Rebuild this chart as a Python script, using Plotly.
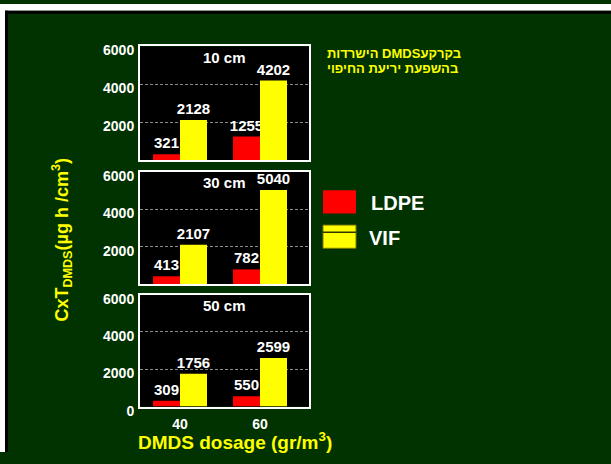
import plotly.graph_objects as go

# ---- data ----
depths = ["10 cm", "30 cm", "50 cm"]
dosage = [40, 60]
ldpe = [[321, 1255], [413, 782], [309, 550]]
vif = [[2128, 4202], [2107, 5040], [1756, 2599]]
series_names = ["LDPE", "VIF"]
y_ticks_upper = [2000, 4000, 6000]
y_ticks_lower = [0, 2000, 4000, 6000]
title_line1 = "הישרדות DMDSבקרקע"
title_line2 = "בהשפעת יריעת החיפוי"

W, H = 611, 464
FONT = "Liberation Sans, Arial, sans-serif"
GREEN = "#003300"
RED = "#FF0000"
YEL = "#FFFF00"


def px(x):
    return x / W


def py(y):
    return 1 - y / H


panels_y = [(44, 162), (174, 290), (301, 417)]
panel_x = (140, 309)

fig = go.Figure()
layout = dict(
    width=W, height=H,
    margin=dict(l=0, r=0, t=0, b=0, pad=0),
    paper_bgcolor=GREEN,
    plot_bgcolor="black",
    showlegend=False,
    barmode="overlay",
    font=dict(family=FONT, color="white"),
)

annotations = []
for i, depth in enumerate(depths):
    xa = "x" if i == 0 else f"x{i+1}"
    ya = "y" if i == 0 else f"y{i+1}"
    fig.add_trace(go.Bar(
        x=dosage, y=ldpe[i], name=series_names[0], xaxis=xa, yaxis=ya,
        marker=dict(color=RED, line=dict(width=0)),
        width=6.75, offset=-6.75,
        text=[str(v) for v in ldpe[i]], textposition="outside",
        constraintext="none", cliponaxis=False,
        textfont=dict(family=FONT, size=15, color="white", weight="bold"),
        hoverinfo="skip",
    ))
    fig.add_trace(go.Bar(
        x=dosage, y=vif[i], name=series_names[1], xaxis=xa, yaxis=ya,
        marker=dict(color=YEL, line=dict(width=0)),
        width=6.75, offset=0,
        text=[str(v) for v in vif[i]], textposition="outside",
        constraintext="none", cliponaxis=False,
        textfont=dict(family=FONT, size=15, color="white", weight="bold"),
        hoverinfo="skip",
    ))
    y0, y1 = panels_y[i]
    last = i == len(depths) - 1
    xkey = "xaxis" if i == 0 else f"xaxis{i+1}"
    ykey = "yaxis" if i == 0 else f"yaxis{i+1}"
    layout[xkey] = dict(
        domain=[px(panel_x[0]), px(panel_x[1])],
        anchor=ya, range=[30, 72.25],
        showgrid=False, zeroline=False,
        showline=True, linecolor="white", linewidth=2, mirror=True,
        tickvals=dosage, ticktext=[str(d) for d in dosage],
        showticklabels=last, ticks="",
        ticklabelstandoff=4,
        tickfont=dict(family=FONT, size=14, color="white", weight="bold"),
        fixedrange=True,
    )
    layout[ykey] = dict(
        domain=[py(y1), py(y0)],
        anchor=xa, range=[0, 6000],
        tickvals=y_ticks_lower if last else y_ticks_upper,
        showgrid=True, gridcolor="#8a8a8a", gridwidth=1, griddash="3px,2px",
        zeroline=False,
        showline=True, linecolor="white", linewidth=2, mirror=True,
        ticks="", ticklabelshift=4, ticklabelstandoff=1,
        tickfont=dict(family=FONT, size=14, color="white", weight="bold"),
        fixedrange=True,
    )
    annotations.append(dict(
        x=px((panel_x[0] + panel_x[1]) / 2), y=py(y0 + 11),
        xref="paper", yref="paper", text=f"<b>{depth}</b>",
        showarrow=False, xanchor="center", yanchor="middle",
        font=dict(family=FONT, size=15, color="white"),
    ))

# axis titles
annotations.append(dict(
    x=px(62), y=py(244), xref="paper", yref="paper",
    text="<b>CxT<sub>DMDS</sub>(µg h /cm<sup>3</sup>)</b>",
    textangle=-90, showarrow=False, xanchor="center", yanchor="middle",
    font=dict(family=FONT, size=18, color=YEL),
))
annotations.append(dict(
    x=px(136), y=py(453), xref="paper", yref="paper",
    text="<b>DMDS dosage (gr/m<sup>3</sup>)</b>",
    showarrow=False, xanchor="left", yanchor="middle",
    font=dict(family=FONT, size=19, color=YEL),
))
# hebrew title
annotations.append(dict(
    x=px(325), y=py(51), xref="paper", yref="paper",
    text=f"<b>{title_line1}</b>",
    showarrow=False, xanchor="left", yanchor="middle",
    font=dict(family=FONT, size=13, color=YEL),
))
annotations.append(dict(
    x=px(325), y=py(67), xref="paper", yref="paper",
    text=f"<b>{title_line2}</b>",
    showarrow=False, xanchor="left", yanchor="middle",
    font=dict(family=FONT, size=13, color=YEL),
))
# legend labels
annotations.append(dict(
    x=px(369), y=py(206), xref="paper", yref="paper",
    text=f"<b>{series_names[0]}</b>",
    showarrow=False, xanchor="left", yanchor="middle",
    font=dict(family=FONT, size=20, color="white"),
))
annotations.append(dict(
    x=px(367), y=py(242), xref="paper", yref="paper",
    text=f"<b>{series_names[1]}</b>",
    showarrow=False, xanchor="left", yanchor="middle",
    font=dict(family=FONT, size=20, color="white"),
))
layout["annotations"] = annotations

shapes = [
    # white outer strips
    dict(type="rect", xref="paper", yref="paper", x0=0, x1=1, y0=py(7), y1=1,
         fillcolor="white", line=dict(width=0)),
    dict(type="rect", xref="paper", yref="paper", x0=0, x1=px(5), y0=0, y1=1,
         fillcolor="white", line=dict(width=0)),
    # black frame lines
    dict(type="rect", xref="paper", yref="paper", x0=px(5), x1=1, y0=py(10), y1=py(7),
         fillcolor="black", line=dict(width=0)),
    dict(type="rect", xref="paper", yref="paper", x0=px(5), x1=px(8), y0=0, y1=py(7),
         fillcolor="black", line=dict(width=0)),
    # legend swatches
    dict(type="rect", xref="paper", yref="paper", x0=px(323), x1=px(356), y0=py(217), y1=py(193),
         fillcolor=RED, line=dict(width=0)),
    dict(type="rect", xref="paper", yref="paper", x0=px(323), x1=px(356), y0=py(253), y1=py(229),
         fillcolor=YEL, line=dict(width=1, color="#7a7a00")),
    dict(type="line", xref="paper", yref="paper", x0=px(323), x1=px(356), y0=py(236.5), y1=py(236.5),
         line=dict(width=1.5, color="#333300")),
]
layout["shapes"] = shapes

fig.update_layout(**layout)
fig.write_html(
    "out.html",
    config={"displayModeBar": False},
    post_script=(
        "document.documentElement.style.margin='0';"
        "document.documentElement.style.overflow='hidden';"
        "document.body.style.margin='0';document.body.style.padding='0';"
        "var gd=document.getElementById('{plot_id}');"
        "gd.style.position='fixed';gd.style.top='0px';gd.style.left='0px';"
    ),
)
